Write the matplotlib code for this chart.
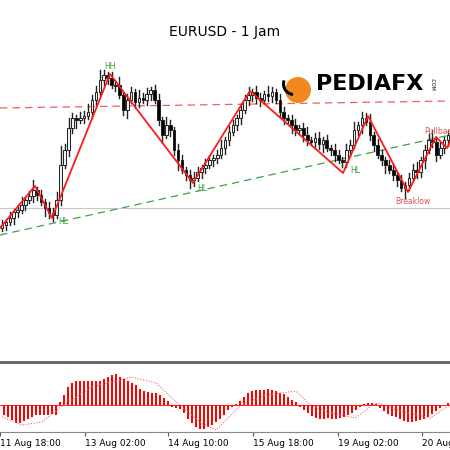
import matplotlib
matplotlib.use("Agg")
import matplotlib.pyplot as plt
from matplotlib.patches import Rectangle, Wedge

# price values are in chart units (bigger = lower on screen, like pixel rows)
closes = [225, 222, 218, 212, 210, 205, 200, 196, 190,
          195, 202, 208, 213, 215,
          200, 165, 150, 128, 118, 120, 118, 116, 112, 100, 92, 80, 75, 78, 85,
          85, 95, 110, 100, 92, 102, 98, 100, 94, 90, 100, 120, 135, 125, 130, 150, 160, 170, 175, 180, 178,
          172, 168, 165, 160, 158, 155, 148, 140, 132, 125, 118, 110, 100, 95, 92,
          98, 100, 94, 96, 92, 100, 112, 118, 120, 125, 130, 128, 135, 140, 142, 138, 144, 140, 148, 150, 155, 160, 162,
          150, 145, 130, 125, 118, 122,
          135, 145, 155, 160, 165, 170, 175, 180, 188, 185,
          178, 170, 172, 160, 150, 140, 142,
          155, 148, 140, 135]
first_open = 228
wick_up = [3, 2, 4, 2, 3, 5, 2, 3, 6, 2, 3, 2, 4, 3, 5, 12, 4, 6, 3, 2, 4, 3, 5, 3, 4, 6, 3, 2, 4,
           3, 5, 2, 4, 3, 2, 5, 3, 4, 2, 3, 4, 2, 5, 3, 2, 4, 3, 2, 3, 4,
           3, 2, 4, 3, 2, 3, 5, 2, 4, 3, 2, 4, 3, 5, 2,
           4, 3, 2, 5, 3, 2, 4, 3, 2, 3, 4, 2, 3, 5, 2, 3, 4, 2, 3, 2, 4, 3, 2,
           4, 3, 5, 2, 4, 3, 5, 2, 4, 3, 2, 3, 4, 2, 3, 2, 3, 4, 5, 2, 3, 4, 6, 3, 4, 2, 3, 3, 2]
wick_dn = [2, 3, 2, 4, 3, 2, 3, 2, 4, 3, 2, 5, 3, 4, 2, 3, 2, 4, 3, 5, 2, 3, 2, 4, 3, 2, 3, 4, 2,
           4, 2, 3, 5, 2, 4, 3, 2, 3, 4, 2, 3, 5, 2, 4, 3, 6, 2, 3, 5, 4,
           2, 4, 3, 2, 4, 3, 2, 4, 3, 2, 3, 4, 2, 3, 4,
           3, 4, 2, 3, 4, 2, 3, 4, 2, 5, 3, 2, 4, 3, 2, 4, 3, 5, 2, 3, 4, 2, 3,
           3, 4, 2, 3, 5, 2, 3, 4, 2, 3, 5, 2, 3, 4, 2, 6, 3, 2, 4, 3, 5, 2, 3, 4, 2, 3, 4, 2, 3]

zz_x = [0, 35, 52, 110, 193, 250, 343, 368, 408, 436, 447, 452]
zz_y = [228, 186, 218, 74, 183, 91, 173, 116, 192, 137, 148, 138]
pivot_labels = [("HH", 110, 66, "#3a9a3a"), ("HL", 63, 221, "#3a9a3a"), ("HL", 202, 188, "#3a9a3a"),
                ("HL", 355, 170, "#3a9a3a"), ("Breaklow", 413, 201, "#e05050"), ("Pullback", 440, 131, "#e05050")]

hist = [-10, -12, -15, -18, -18, -16, -14, -12, -10, -10, -10, -10, -9, -10,
        3, 10, 18, 22, 24, 24, 24, 24, 24, 24, 24, 26, 28, 30,
        31, 28, 26, 24, 22, 20, 16, 14, 13, 12, 12, 10, 7, 4,
        -2, -3, -4, -8, -14, -18, -22, -24, -24, -22, -20, -17, -14, -10, -5, -2, 1,
        4, 8, 12, 14, 15, 15, 15, 16, 15, 14, 12, 11, 8, 5, 3,
        -2, -5, -8, -11, -13, -14, -14, -13, -14, -14, -13, -12, -10, -8, -5, -2,
        1, 2, 2, 1,
        -3, -6, -9, -11, -12, -14, -16, -17, -17, -16, -15, -14, -12, -9, -6, -3, 0, 2]
sig_x = [0, 20, 40, 62, 90, 130, 155, 178, 200, 215, 240, 265, 295, 310, 330, 355, 372, 378, 400, 430, 450]
sig_y = [-12, -20, -17, 0, 18, 28, 22, 0, -18, -25, 0, 10, 14, 0, -8, -13, 0, 2, -6, -13, 0]

date_x = [-2, 83, 167, 252, 337, 422]
date_labels = ["11 Aug 18:00", "13 Aug 02:00", "14 Aug 10:00", "15 Aug 18:00", "19 Aug 02:00", "20 Aug 10:00"]

fig = plt.figure(figsize=(4.5, 4.5), dpi=100)
ax = fig.add_axes([0, 1 - 362 / 450, 1, 312 / 450])
ax.set_xlim(0, 450)
ax.set_ylim(362, 50)
ax.axis("off")

step = 450 / len(closes)
prev = first_open
for i, c in enumerate(closes):
    x = 2 + i * step
    o = prev
    top, bot = min(o, c), max(o, c)
    ax.plot([x, x], [top - 1.6 * wick_up[i], bot + 1.6 * wick_dn[i]], color="#222222", lw=1.0, zorder=2)
    face = "#f0f0f0" if c < o else "black"
    ax.add_patch(Rectangle((x - 1.3, top), 2.6, max(bot - top, 0.8), facecolor=face,
                           edgecolor="#222222", lw=0.7, zorder=3))
    prev = c

ax.axhline(208, color="#c8c8c8", lw=0.8, zorder=1)
ax.plot([0, 450], [108, 101], color="#f06060", lw=0.9, dashes=(6, 4), zorder=1)
ax.plot([0, 450], [235, 135], color="#40a040", lw=0.9, dashes=(6, 4), zorder=1)
ax.plot(zz_x, zz_y, color="#ff1a1a", lw=1.3, zorder=4)
for txt, x, y, col in pivot_labels:
    ax.text(x, y, txt, color=col, fontsize=5.5, ha="center", va="center", zorder=5)

# logo
ax.add_patch(Wedge((298, 90), 13, 0, 360, facecolor="#f08a1e", edgecolor="none", zorder=6))
ax.add_patch(Wedge((294, 84), 12, 95, 200, width=3, facecolor="black", edgecolor="none", zorder=7))
ax.text(316, 84, "PEDIAFX", fontsize=16, fontweight="bold", color="black", va="center", zorder=6)
ax.text(432, 84, ".COM", fontsize=3.5, rotation=-90, va="center", ha="center", zorder=6)

fig.text(0.5, 1 - 32 / 450, "EURUSD - 1 Jam", ha="center", va="center", fontsize=10)

ai = fig.add_axes([0, 1 - 432 / 450, 1, 70 / 450])
ai.set_xlim(0, 450)
ai.set_ylim(-27, 43)
hx = [2 + i * 450 / len(hist) for i in range(len(hist))]
ai.bar(hx, hist, width=2.6, color="#ff0000", edgecolor="none")
ai.plot(sig_x, sig_y, color="#ff6060", lw=0.8, ls=(0, (1, 1.5)))
ai.axhline(0, color="#ff0000", lw=0.6)
for s in ["left", "right"]:
    ai.spines[s].set_visible(False)
ai.spines["top"].set_color("#606060")
ai.spines["top"].set_linewidth(2)
ai.spines["bottom"].set_color("#888888")
ai.set_yticks([])
ai.set_xticks(date_x)
ai.set_xticklabels(date_labels, fontsize=6.5, ha="left")
ai.tick_params(axis="x", length=3, pad=2, color="#555555")

fig.savefig("out.png", dpi=100)
